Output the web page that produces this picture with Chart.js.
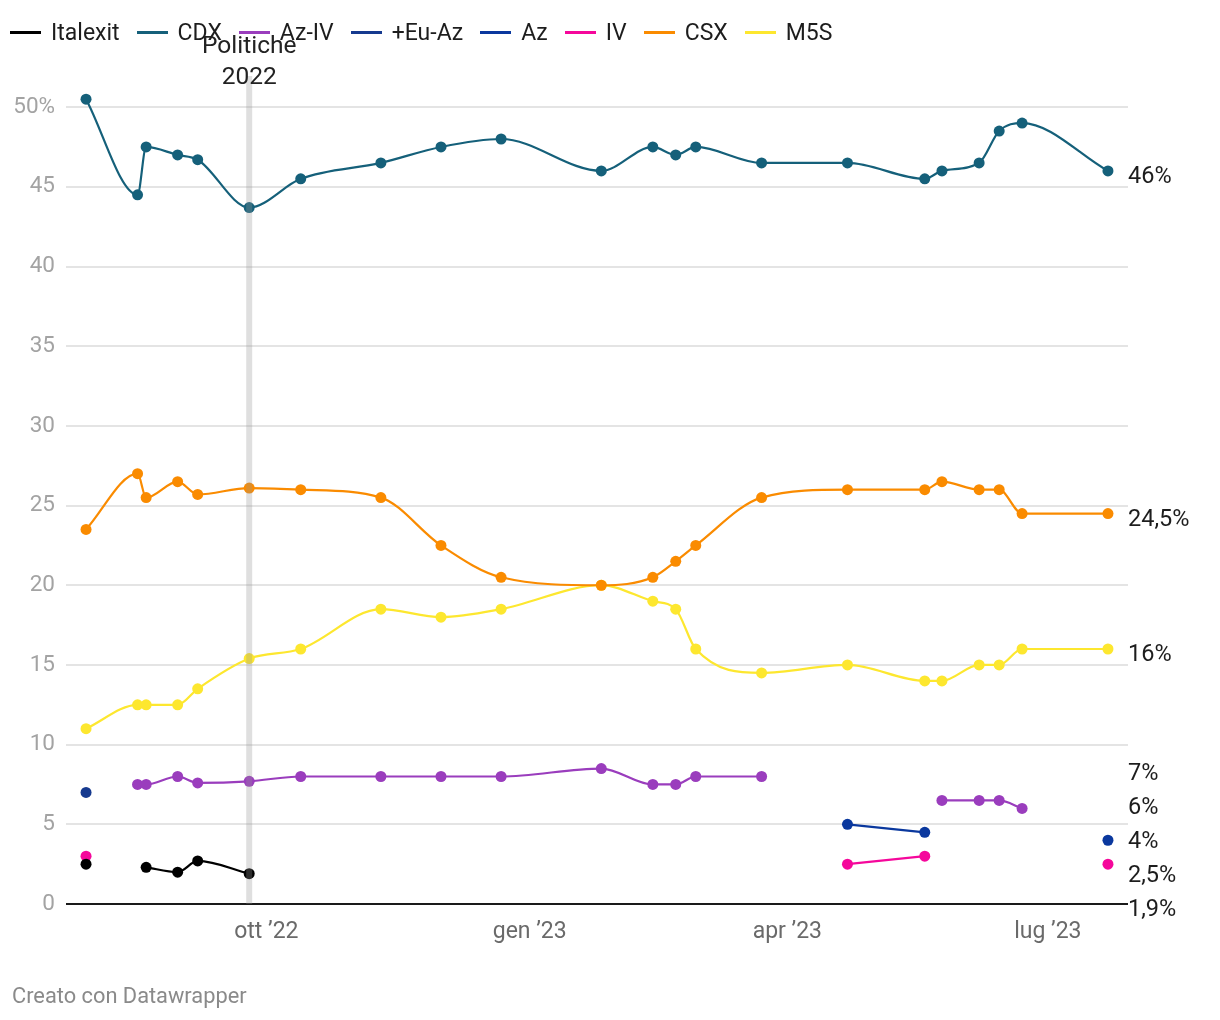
<!DOCTYPE html>
<html>
<head>
<meta charset="utf-8">
<script src="https://cdn.jsdelivr.net/npm/chart.js@4.4.1/dist/chart.umd.min.js"></script>
<style>
  html, body { margin: 0; padding: 0; background: #fff; }
  body { width: 1220px; height: 1020px; position: relative; overflow: hidden; font-family: Roboto, "Noto Sans", sans-serif; }
  #wrap { position: absolute; left: 0; top: 0; width: 1220px; height: 1020px; }
  #legend { position: absolute; left: 10px; top: 19px; display: flex; align-items: center; gap: 17px; font-size: 23px; color: #1d1d1d; z-index: 2; }
  .item { display: flex; align-items: center; white-space: nowrap; }
  .sw { width: 31px; height: 3px; margin-right: 10px; }
  #footer { position: absolute; left: 12px; top: 983px; font-size: 21.8px; color: #8a8a8a; }
</style>
</head>
<body>
<div id="legend"></div>
<div id="wrap"><canvas id="c" width="1220" height="1020"></canvas></div>
<div id="footer">Creato con Datawrapper</div>
<script>
// ---- Data ----
const dates = ['2022-07-30','2022-08-17','2022-08-20','2022-08-31','2022-09-07','2022-09-25','2022-10-13','2022-11-10','2022-12-01','2022-12-22','2023-01-26','2023-02-13','2023-02-21','2023-02-28','2023-03-23','2023-04-22','2023-05-19','2023-05-25','2023-06-07','2023-06-14','2023-06-22','2023-07-22'];
const seriesNames = ['Italexit','CDX','Az-IV','+Eu-Az','Az','IV','CSX','M5S'];
const seriesColors = ['#000000','#15607a','#9a3dbd','#163a8f','#0a389e','#f5079b','#fa8b00','#fde72f'];
const italexit = [2.5,null,2.3,2.0,2.7,1.9,null,null,null,null,null,null,null,null,null,null,null,null,null,null,null,null];
const cdx      = [50.5,44.5,47.5,47,46.7,43.7,45.5,46.5,47.5,48,46,47.5,47,47.5,46.5,46.5,45.5,46,46.5,48.5,49,46];
const azIv     = [null,7.5,7.5,8,7.6,7.7,8,8,8,8,8.5,7.5,7.5,8,8,null,null,6.5,6.5,6.5,6,null];
const euAz     = [7,null,null,null,null,null,null,null,null,null,null,null,null,null,null,null,null,null,null,null,null,null];
const az       = [null,null,null,null,null,null,null,null,null,null,null,null,null,null,null,5,4.5,null,null,null,null,4];
const iv       = [3,null,null,null,null,null,null,null,null,null,null,null,null,null,null,2.5,3,null,null,null,null,2.5];
const csx      = [23.5,27,25.5,26.5,25.7,26.1,26,25.5,22.5,20.5,20,20.5,21.5,22.5,25.5,26,26,26.5,26,26,24.5,24.5];
const m5s      = [11,12.5,12.5,12.5,13.5,15.4,16,18.5,18,18.5,20,19,18.5,16,14.5,15,14,14,15,15,16,16];
const seriesValues = [italexit, cdx, azIv, euAz, az, iv, csx, m5s];
const tickDates = ['2022-10-01','2023-01-01','2023-04-01','2023-07-01'];
const tickLabels = ['ott \u201922','gen \u201923','apr \u201923','lug \u201923'];
const yTicks = [0,5,10,15,20,25,30,35,40,45,50];
const eventDate = '2022-09-25';
const eventLabel = ['Politiche','2022'];

// ---- Helpers ----
const ORIGIN = Date.UTC(2022, 9, 1);
function dayOf(s) { const p = s.split('-').map(Number); return (Date.UTC(p[0], p[1]-1, p[2]) - ORIGIN) / 86400000; }
const xDays = dates.map(dayOf);
const tickDays = tickDates.map(dayOf);

// Legend (HTML)
const lg = document.getElementById('legend');
seriesNames.forEach((n, i) => {
  const it = document.createElement('div'); it.className = 'item';
  const sw = document.createElement('span'); sw.className = 'sw'; sw.style.background = seriesColors[i];
  const tx = document.createElement('span'); tx.textContent = n;
  it.appendChild(sw); it.appendChild(tx); lg.appendChild(it);
});

const datasets = seriesNames.map((n, i) => ({
  label: n,
  data: seriesValues[i].map((v, j) => ({ x: xDays[j], y: v })),
  borderColor: seriesColors[i],
  backgroundColor: seriesColors[i],
  pointBackgroundColor: seriesColors[i],
  pointBorderWidth: 0,
  pointRadius: 5.5,
  borderWidth: 2.2,
  cubicInterpolationMode: 'monotone',
  spanGaps: false,
  clip: false
}));

function fmt(v) { return String(v).replace('.', ',') + '%'; }

const overlayPlugin = {
  id: 'overlay',
  afterDatasetsDraw(chart) {
    const ctx = chart.ctx, xs = chart.scales.x, ys = chart.scales.y, ca = chart.chartArea;
    // event band
    const ex = xs.getPixelForValue(dayOf(eventDate));
    ctx.save();
    ctx.fillStyle = 'rgba(150,150,150,0.3)';
    ctx.fillRect(ex - 3, 76, 6, ca.bottom - 76);
    ctx.fillStyle = '#222';
    ctx.font = '24.5px Roboto';
    ctx.textAlign = 'center';
    ctx.textBaseline = 'middle';
    ctx.fillText(eventLabel[0], ex, 47);
    ctx.fillText(eventLabel[1], ex, 78);
    ctx.restore();

    // end labels
    const labels = [];
    seriesValues.forEach((arr, i) => {
      let last = null;
      for (let k = arr.length - 1; k >= 0; k--) if (arr[k] !== null) { last = arr[k]; break; }
      if (last === null) return;
      labels.push({ text: fmt(last), y: ys.getPixelForValue(last) + 6.5 });
    });
    labels.sort((a, b) => a.y - b.y);
    const gap = 34;
    let groups = labels.map(l => ({ items: [l], center: l.y }));
    let changed = true;
    while (changed) {
      changed = false;
      for (let g = 0; g < groups.length - 1; g++) {
        const A = groups[g], B = groups[g + 1];
        const aBottom = A.center + (A.items.length - 1) * gap / 2;
        const bTop = B.center - (B.items.length - 1) * gap / 2;
        if (bTop - aBottom < gap) {
          const items = A.items.concat(B.items);
          const mean = items.reduce((s, l) => s + l.y, 0) / items.length;
          groups.splice(g, 2, { items, center: mean });
          changed = true; break;
        }
      }
    }
    ctx.save();
    ctx.fillStyle = '#1d1d1d';
    ctx.font = '23.5px Roboto';
    ctx.textAlign = 'left';
    ctx.textBaseline = 'middle';
    groups.forEach(G => {
      G.items.forEach((l, k) => {
        const y = G.center + (k - (G.items.length - 1) / 2) * gap;
        ctx.fillText(l.text, ca.right, y);
      });
    });
    ctx.restore();
  }
};

new Chart(document.getElementById('c'), {
  type: 'line',
  data: { datasets },
  plugins: [overlayPlugin],
  options: {
    responsive: false,
    animation: false,
    devicePixelRatio: 1,
    layout: { padding: { left: 0, right: 92, top: 88, bottom: 0 } },
    plugins: { legend: { display: false }, tooltip: { enabled: false } },
    scales: {
      x: {
        type: 'linear',
        min: dayOf('2022-07-23'),
        max: dayOf('2023-07-29'),
        afterBuildTicks: (axis) => { axis.ticks = tickDays.map(v => ({ value: v })); },
        afterFit: (s) => { s.height = 116; },
        grid: { display: false, drawTicks: false },
        border: { display: false },
        ticks: {
          autoSkip: false, maxRotation: 0, padding: 14,
          color: '#6a6a6a', font: { family: 'Roboto', size: 23 },
          callback: (v) => { const i = tickDays.indexOf(v); return i >= 0 ? tickLabels[i] : ''; }
        }
      },
      y: {
        min: 0, max: 51.2,
        afterBuildTicks: (axis) => { axis.ticks = yTicks.map(v => ({ value: v })); },
        afterFit: (s) => { s.width = 66; },
        grid: {
          drawTicks: false,
          color: (c) => c.tick && c.tick.value === 0 ? '#1a1a1a' : '#e4e4e4',
          lineWidth: 2
        },
        border: { display: false },
        ticks: {
          padding: 11,
          color: '#a3a3a3', font: { family: 'Roboto', size: 22.5 },
          callback: (v) => v === 50 ? '50%' : String(v)
        }
      }
    }
  }
});
</script>
</body>
</html>
